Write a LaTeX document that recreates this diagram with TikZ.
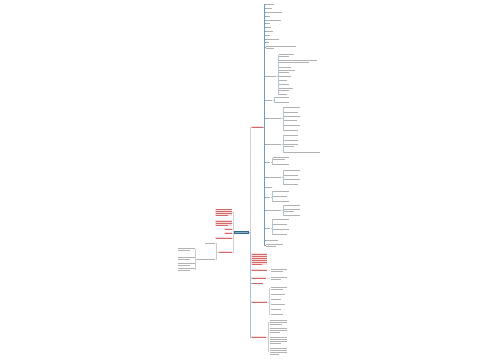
\documentclass[tikz,border=0pt]{standalone}
\definecolor{rootblue}{HTML}{2C6A93}
\definecolor{trunkA}{HTML}{6F9CC0}
\definecolor{trunkR}{HTML}{A6C3D9}
\definecolor{thin}{HTML}{B4C6D6}
\definecolor{pinkf}{HTML}{F9DCDC}
\definecolor{redt}{HTML}{D06A6A}
\newcommand\R[1]{\rule{#1pt}{0.5pt}}
\newcommand\kid[7]{\node[#1,anchor=west] (#2) at (#3,#4) {#5}; \draw[#7] (#6.east) -- ++(1.2,0) |- (#2.west);}
\newcommand\lkid[7]{\node[#1,anchor=east] (#2) at (#3,#4) {#5}; \draw[#7] (#6.west) -- ++(-1.2,0) |- (#2.east);}
\tikzset{
 lf/.style={inner sep=0.3pt, text=gray!60, font=\fontsize{1.5}{1.9}\selectfont, align=left},
 pk/.style={inner sep=0.6pt, fill=pinkf, text=redt, font=\fontsize{1.5}{1.9}\selectfont, align=left},
 rootn/.style={inner xsep=1.2pt, inner ysep=1.4pt, fill=rootblue, text=white!45!rootblue, font=\fontsize{1.5}{1.9}\selectfont},
 c0/.style={draw=gray!35, line width=0.5pt},
 c1/.style={draw=trunkR, line width=1pt},
 c2/.style={draw=trunkA, line width=0.8pt},
 c3/.style={draw=thin, line width=0.35pt},
 c4/.style={draw=gray!40, line width=0.4pt}
}
\begin{document}
\begin{tikzpicture}[x=1pt,y=-1pt]
\useasboundingbox[fill=white] (0,0) rectangle (500,360);
% root
\node[rootn,anchor=west] (root) at (234,232.5) {\R{12.5}};
% upper branch A
\kid{pk}{A}{251}{127}{\R{11}}{root}{c0}
\kid{lf}{a1}{265.5}{4}{\R{8}}{A}{c2}
\kid{lf}{a2}{265.5}{8}{\R{6}}{A}{c2}
\kid{lf}{a3}{265.5}{12}{\R{16}}{A}{c2}
\kid{lf}{a4}{265.5}{16}{\R{4}}{A}{c2}
\kid{lf}{a5}{265.5}{20}{\R{15}}{A}{c2}
\kid{lf}{a6}{265.5}{23.5}{\R{4}}{A}{c2}
\kid{lf}{a7}{265.5}{27}{\R{5}}{A}{c2}
\kid{lf}{a8}{265.5}{31}{\R{7}}{A}{c2}
\kid{lf}{a9}{265.5}{35}{\R{4}}{A}{c2}
\kid{lf}{a10}{265.5}{39}{\R{13}}{A}{c2}
\kid{lf}{a11}{265.5}{42.5}{\R{3}}{A}{c2}
\kid{lf}{a12}{265.5}{47}{\R{30}\\\R{8}}{A}{c2}
% group 1
\kid{lf}{g1}{265.5}{76}{\R{10}}{A}{c2}
\kid{lf}{g1a}{278.6}{55}{\R{15}\\\R{10}}{g1}{c3}
\kid{lf}{g1b}{278.6}{61}{\R{38}\\\R{30}}{g1}{c3}
\kid{lf}{g1c}{278.6}{67}{\R{12}}{g1}{c3}
\kid{lf}{g1d}{278.6}{71.5}{\R{16}\\\R{10}}{g1}{c3}
\kid{lf}{g1e}{278.6}{76}{\R{12}}{g1}{c3}
\kid{lf}{g1f}{278.6}{80.5}{\R{8}}{g1}{c3}
\kid{lf}{g1g}{278.6}{84.5}{\R{10}}{g1}{c3}
\kid{lf}{g1h}{278.6}{89}{\R{14}\\\R{10}}{g1}{c3}
\kid{lf}{g1i}{278.6}{94}{\R{8}}{g1}{c3}
% group 2
\kid{lf}{g2}{265.5}{100}{\R{6}}{A}{c2}
\kid{lf}{g2a}{274.6}{97.5}{\R{14}}{g2}{c3}
\kid{lf}{g2b}{274.6}{102.5}{\R{14}}{g2}{c3}
% group 3
\kid{lf}{g3}{265.5}{118}{\R{15}}{A}{c2}
\kid{lf}{g3a}{283.6}{107}{\R{16}}{g3}{c3}
\kid{lf}{g3b}{283.6}{112}{\R{14}}{g3}{c3}
\kid{lf}{g3c}{283.6}{116}{\R{16}}{g3}{c3}
\kid{lf}{g3d}{283.6}{120}{\R{13}}{g3}{c3}
\kid{lf}{g3e}{283.6}{125}{\R{16}}{g3}{c3}
\kid{lf}{g3f}{283.6}{130}{\R{14}}{g3}{c3}
% group 4
\kid{lf}{g4}{265.5}{144}{\R{15}}{A}{c2}
\kid{lf}{g4a}{283.6}{135}{\R{14}}{g4}{c3}
\kid{lf}{g4b}{283.6}{140}{\R{14}}{g4}{c3}
\kid{lf}{g4c}{283.6}{145.5}{\R{14}\\\R{10}}{g4}{c3}
\kid{lf}{g4d}{283.6}{152}{\R{36}}{g4}{c3}
% group 5
\kid{lf}{g5}{265.5}{162}{\R{4}}{A}{c2}
\kid{lf}{g5a}{272.6}{158.5}{\R{16}\\\R{12}}{g5}{c3}
\kid{lf}{g5b}{272.6}{164.5}{\R{16}}{g5}{c3}
% group 6
\kid{lf}{g6}{265.5}{177}{\R{15}}{A}{c2}
\kid{lf}{g6a}{283.6}{170}{\R{16}}{g6}{c3}
\kid{lf}{g6b}{283.6}{175}{\R{14}}{g6}{c3}
\kid{lf}{g6c}{283.6}{179.5}{\R{16}}{g6}{c3}
\kid{lf}{g6d}{283.6}{184}{\R{14}}{g6}{c3}
\kid{lf}{a13}{265.5}{187.5}{\R{6}}{A}{c2}
% group 8
\kid{lf}{g8}{265.5}{197}{\R{4}}{A}{c2}
\kid{lf}{g8a}{272.6}{191}{\R{16}}{g8}{c3}
\kid{lf}{g8b}{272.6}{196}{\R{14}}{g8}{c3}
\kid{lf}{g8c}{272.6}{201}{\R{16}}{g8}{c3}
% group 9
\kid{lf}{g9}{265.5}{210}{\R{15}}{A}{c2}
\kid{lf}{g9a}{283.6}{205.5}{\R{16}}{g9}{c3}
\kid{lf}{g9b}{283.6}{210.5}{\R{16}\\\R{10}}{g9}{c3}
\kid{lf}{g9c}{283.6}{215.5}{\R{16}}{g9}{c3}
% group 10
\kid{lf}{g10}{265.5}{228}{\R{4}}{A}{c2}
\kid{lf}{g10a}{272.6}{219}{\R{16}}{g10}{c3}
\kid{lf}{g10b}{272.6}{224}{\R{14}}{g10}{c3}
\kid{lf}{g10c}{272.6}{229}{\R{16}}{g10}{c3}
\kid{lf}{g10d}{272.6}{234}{\R{14}}{g10}{c3}
\kid{lf}{a14}{265.5}{240}{\R{12}}{A}{c2}
\kid{lf}{a15}{265.5}{245.5}{\R{17}\\\R{10}}{A}{c2}
% lower right branches
\kid{pk}{B1}{251}{259}{\R{15}\\\R{15}\\\R{15}\\\R{15}\\\R{15}\\\R{10}}{root}{c1}
\kid{pk}{B2}{251}{270}{\R{15}}{root}{c1}
\kid{lf}{B2a}{270}{270}{\R{16}\\\R{12}}{B2}{c4}
\kid{pk}{B3}{251}{278}{\R{14}}{root}{c1}
\kid{lf}{B3a}{270}{278}{\R{16}\\\R{10}}{B3}{c4}
\kid{pk}{B4}{251}{283.5}{\R{11}}{root}{c1}
\kid{pk}{B5}{251}{302}{\R{15}}{root}{c1}
\kid{lf}{B5a}{270}{288}{\R{16}\\\R{12}}{B5}{c4}
\kid{lf}{B5b}{270}{294}{\R{14}}{B5}{c4}
\kid{lf}{B5c}{270}{299}{\R{10}}{B5}{c4}
\kid{lf}{B5d}{270}{304}{\R{14}}{B5}{c4}
\kid{lf}{B5e}{270}{309}{\R{10}}{B5}{c4}
\kid{lf}{B5f}{270}{314}{\R{12}}{B5}{c4}
\kid{pk}{B6}{251}{337}{\R{14}}{root}{c1}
\kid{lf}{B6a}{269}{322}{\R{17}\\\R{17}\\\R{12}}{B6}{c4}
\kid{lf}{B6b}{269}{330.5}{\R{17}\\\R{17}\\\R{10}}{B6}{c4}
\kid{lf}{B6c}{269}{340}{\R{17}\\\R{17}\\\R{17}\\\R{11}}{B6}{c4}
\kid{lf}{B6d}{269}{351}{\R{17}\\\R{17}\\\R{17}\\\R{9}}{B6}{c4}
% left branches
\lkid{pk}{L1}{232.3}{212.5}{\R{16}\\\R{16}\\\R{16}\\\R{12}}{root}{c0}
\lkid{pk}{L2}{232.3}{223}{\R{16}\\\R{16}\\\R{12}}{root}{c0}
\lkid{pk}{L3}{232.3}{229}{\R{7}}{root}{c0}
\lkid{pk}{L4}{232.3}{233}{\R{7}}{root}{c0}
\lkid{pk}{L5}{232.3}{238}{\R{16}}{root}{c0}
\lkid{pk}{L6}{232.3}{252}{\R{13}}{root}{c0}
\lkid{lf}{C1}{215.8}{243}{\R{10}}{L6}{c4}
\lkid{lf}{C2}{215.8}{259}{\R{18}}{L6}{c4}
\lkid{lf}{D1}{195.2}{249.5}{\R{17}\\\R{12}}{C2}{c4}
\lkid{lf}{D2}{195.2}{258}{\R{17}\\\R{12}}{C2}{c4}
\lkid{lf}{D3}{195.2}{264}{\R{17}\\\R{12}}{C2}{c4}
\lkid{lf}{D4}{195.2}{269}{\R{17}\\\R{12}}{C2}{c4}
\end{tikzpicture}
\end{document}
